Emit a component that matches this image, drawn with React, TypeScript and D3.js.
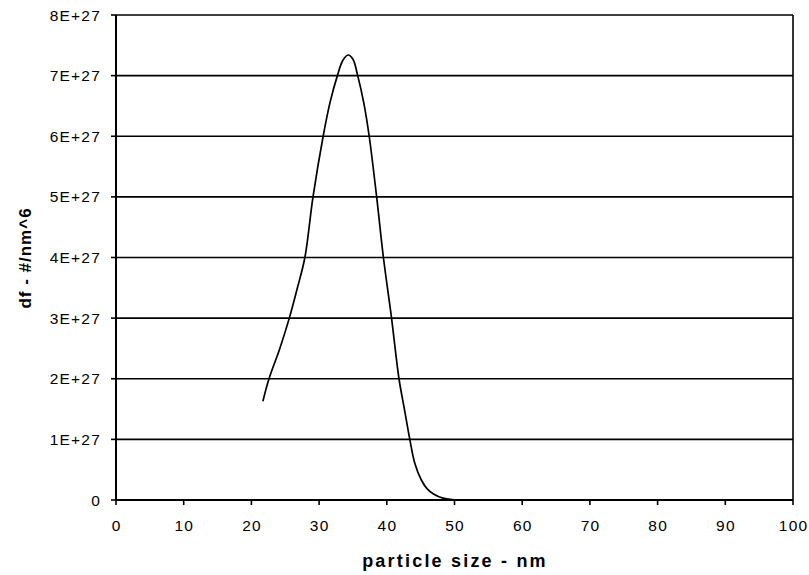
import React from "react";
import * as d3 from "d3";

const sizes = [21.7, 22.6, 24.2, 25.6, 26.8, 27.9, 29.1, 30.6, 31.6, 32.7, 33.5, 34.3, 35.0, 35.7, 36.6, 37.4, 38.5, 39.5, 40.7, 41.8, 42.6, 43.4, 44.1, 45.1, 46.0, 46.9, 48.3, 50.3];
const values = [1.63, 2.0, 2.5, 3.0, 3.5, 4.0, 5.0, 6.0, 6.55, 7.0, 7.25, 7.34, 7.27, 7.0, 6.55, 6.0, 5.0, 4.0, 3.0, 2.0, 1.5, 1.0, 0.62, 0.33, 0.18, 0.1, 0.03, 0.0];
const xTicks = [0, 10, 20, 30, 40, 50, 60, 70, 80, 90, 100];
const yTicks = [0, 1, 2, 3, 4, 5, 6, 7, 8];
const yTickLabels = ["0", "1E+27", "2E+27", "3E+27", "4E+27", "5E+27", "6E+27", "7E+27", "8E+27"];

export default function App() {
  const W = 809, H = 575;
  const L = 116, R = 793, T = 15, B = 500;
  const x = d3.scaleLinear().domain([0, 100]).range([L, R]);
  const y = d3.scaleLinear().domain([0, 8]).range([B, T]);
  const line = d3.line<number>()
    .x((_, i) => x(sizes[i]))
    .y((d) => y(d))
    .curve(d3.curveCatmullRom.alpha(0.5));
  const font = "Arial, 'Liberation Sans', sans-serif";
  return (
    <svg width={W} height={H} style={{ position: "absolute", left: 0, top: 0, background: "#fff" }}>
      <rect x={0} y={0} width={W} height={H} fill="#fff" />
      {yTicks.map((t) => (
        <line key={"g" + t} x1={L} x2={R} y1={y(t)} y2={y(t)} stroke="#000" strokeWidth={1.6} />
      ))}
      <line x1={L} x2={L} y1={T} y2={B} stroke="#000" strokeWidth={2} />
      <line x1={R} x2={R} y1={T} y2={B} stroke="#000" strokeWidth={1.6} />
      <line x1={L} x2={R} y1={B} y2={B} stroke="#000" strokeWidth={2} />
      {yTicks.map((t, i) => (
        <g key={"y" + t}>
          <line x1={L - 5} x2={L} y1={y(t)} y2={y(t)} stroke="#000" strokeWidth={1.6} />
          <text x={L - 15} y={y(t)} dy="0.36em" textAnchor="end" fontFamily={font} fontSize={15.5} letterSpacing={1.2} fill="#000">
            {yTickLabels[i]}
          </text>
        </g>
      ))}
      {xTicks.map((t) => (
        <g key={"x" + t}>
          <line x1={x(t)} x2={x(t)} y1={B} y2={B + 5} stroke="#000" strokeWidth={1.6} />
          <text x={x(t) + 0.6} y={531} textAnchor="middle" fontFamily={font} fontSize={15.5} letterSpacing={1.2} fill="#000">
            {t}
          </text>
        </g>
      ))}
      <path d={line(values) || ""} fill="none" stroke="#000" strokeWidth={1.7} />
      <text x={455} y={567} textAnchor="middle" fontFamily={font} fontSize={18} fontWeight="bold" letterSpacing={2.2} fill="#000">
        particle size - nm
      </text>
      <text transform={`translate(31,258) rotate(-90)`} textAnchor="middle" fontFamily={font} fontSize={17} fontWeight="bold" letterSpacing={1} fill="#000">
        df - #/nm^6
      </text>
    </svg>
  );
}
